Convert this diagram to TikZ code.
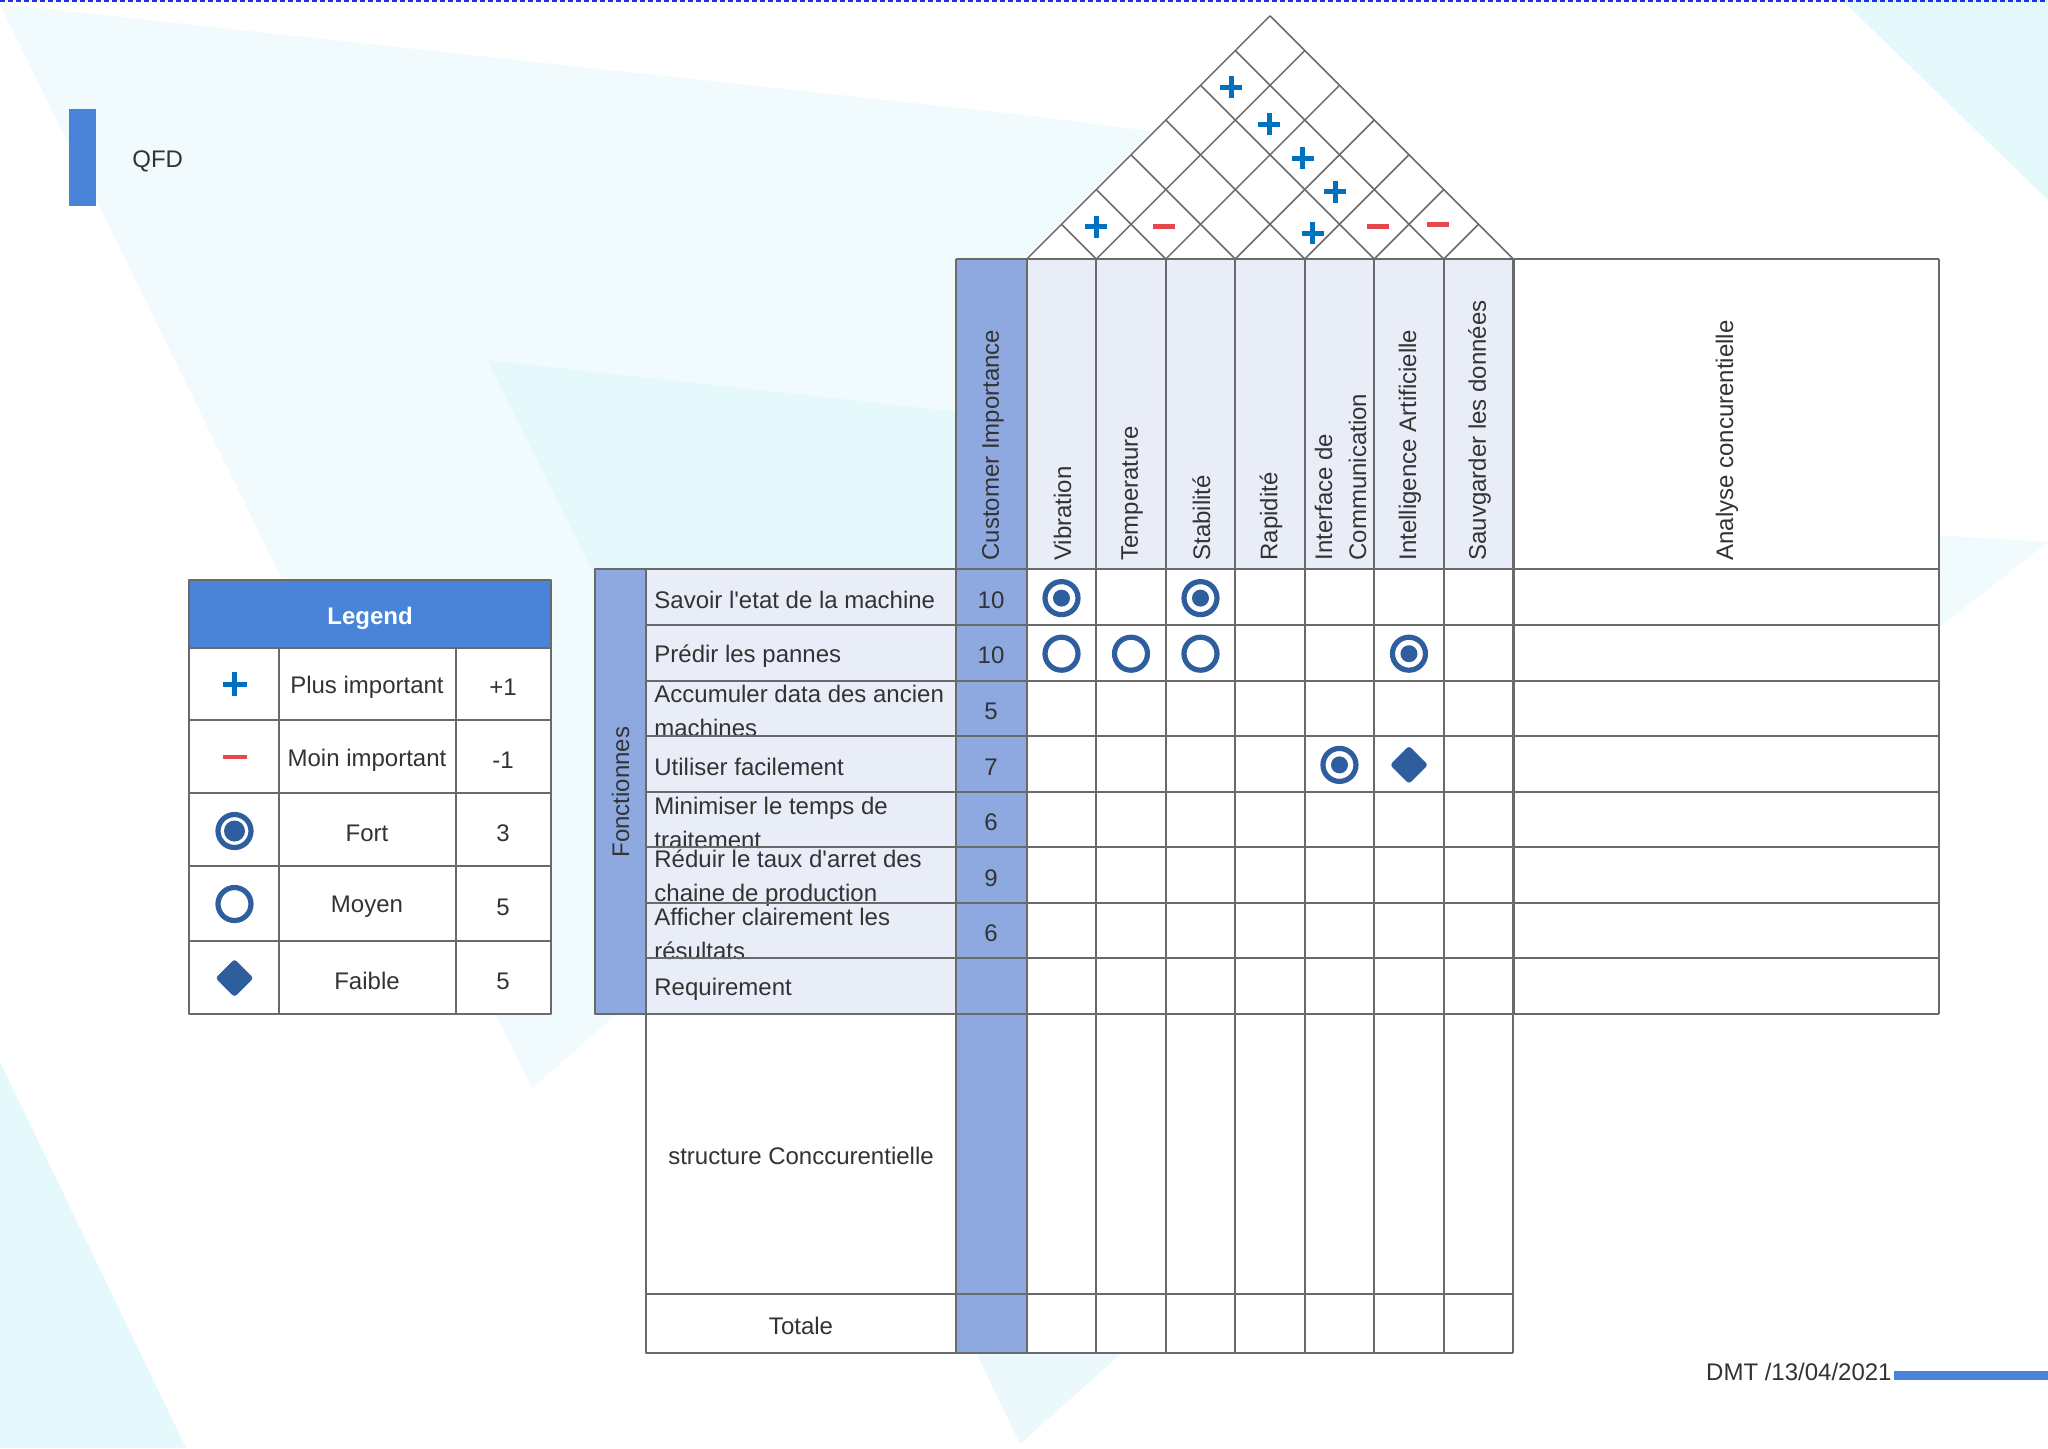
\documentclass[tikz,border=0pt]{standalone}
\usepackage{fontspec}
\setmainfont{Liberation Sans}
\definecolor{qfdblue}{HTML}{4A84D8}
\definecolor{colblue}{HTML}{8DA9E0}
\definecolor{cellfill}{HTML}{E8EDF8}
\definecolor{gridgray}{HTML}{6A6A6A}
\definecolor{symb}{HTML}{2F5E9E}
\definecolor{plusblue}{HTML}{0070C0}
\definecolor{minusred}{HTML}{E5474B}
\definecolor{bgA}{HTML}{F1FBFE}
\definecolor{bgB}{HTML}{E5F8FC}
\definecolor{bgC}{HTML}{EBF9FD}
\definecolor{txt}{HTML}{333333}
\definecolor{dashblue}{HTML}{1F2FF0}
\begin{document}
\begin{tikzpicture}[x=0.5pt,y=-0.5pt, line join=round,
  font=\fontsize{12}{17}\selectfont, text=txt,
  tabline/.style={draw=gridgray, line width=1pt},
  roofline/.style={draw=gridgray, line width=0.75pt},
  hdr/.style={rotate=90, anchor=west, inner sep=0pt},
  reqtext/.style={anchor=west, align=left, inner sep=0pt},
  numtext/.style={inner sep=0pt},
  plussign/.style={draw=plusblue, line width=2.5pt},
  minussign/.style={draw=minusred, line width=2.25pt},
  ringsym/.style={draw=symb, line width=2.6pt},
  dotsym/.style={fill=symb},
  faiblesym/.style={fill=symb, rounded corners=1.5pt}]
\useasboundingbox (0,0) rectangle (2048,1448);
\fill[white] (0,0) rectangle (2048,1448);
% background
\fill[bgA] (0,4) -- (1024,115) -- (1300,150) -- (1300,600) -- (614,1016) -- (532,1088) -- cycle;
\fill[bgB] (487,360) -- (960,412) -- (960,1016) -- (815,1016) -- cycle;
\fill[bgB] (0,1062) -- (186,1448) -- (0,1448) -- cycle;
\fill[bgB] (1842,0) -- (2048,0) -- (2048,200) -- cycle;
\fill[bgC] (951,1300) -- (1181,1300) -- (1020,1444) -- cycle;
\fill[bgA] (1850,530) -- (2048,542) -- (1900,658) -- cycle;
\draw[dashblue, line width=1pt, dash pattern=on 2.5pt off 1.5pt] (0,1) -- (2048,1);
% title and date
\fill[qfdblue] (69,109) rectangle (96,206);
\node[anchor=west, inner sep=0pt] (title) at (132,161) {QFD};
\fill[qfdblue] (1894,1371) rectangle (2048,1380);
\node[anchor=east, inner sep=0pt] (date) at (1892,1372) {DMT /13/04/2021};
% legend
\fill[white] (189,580) rectangle (551,1014);
\fill[qfdblue] (189,580) rectangle (551,648);
\node[font=\fontsize{12}{17}\selectfont\bfseries, text=white] (legend) at (370,618) {Legend};
\foreach \y/\lab/\val [count=\n] in {684/Plus important/+1, 757/Moin important/-1, 830/Fort/3, 904/Moyen/5, 978/Faible/5}{
  \node (lab\n) at (367,\y+3) {\lab};
  \node (val\n) at (503,\y+3) {\val};
}
\draw[tabline] (189,580) rectangle (551,1014);
\foreach \y in {648,720,793,866,941} \draw[tabline] (189,\y) -- (551,\y);
\foreach \x in {279,456} \draw[tabline] (\x,648) -- (\x,1014);
\draw[plussign] (222.5,684) -- (246.5,684) (234.5,672) -- (234.5,696);
\draw[minussign] (222.5,757) -- (246.5,757);
\draw[ringsym] (234.5,831) circle[radius=8.25pt];
\fill[dotsym] (234.5,831) circle[radius=5.25pt];
\draw[ringsym] (234.5,904) circle[radius=8.25pt];
\fill[faiblesym] (234.5,959) -- (253.5,978) -- (234.5,997) -- (215.5,978) -- cycle;
% house of quality
\fill[colblue] (595,569) rectangle (646,1014);
\fill[cellfill] (646,569) rectangle (956,1014);
\fill[white] (646,1014) rectangle (956,1353);
\fill[colblue] (956,259) rectangle (1026.8,1353);
\fill[cellfill] (1026.8,259) rectangle (1513.2,569);
\fill[white] (1026.8,569) rectangle (1513.2,1353);
\fill[white] (1513.2,259) rectangle (1939,1014);
\fill[white] (1026.8,259) -- (1270,15.8) -- (1513.2,259) -- cycle;
\node[rotate=90] (fonct) at (620.5,792) {Fonctionnes};
\foreach \t/\v [count=\i from 0] in {{Savoir l\textquotesingle etat de la machine}/10, {Prédir les pannes}/10,
  {Accumuler data des ancien\\machines}/5, {Utiliser facilement}/7, {Minimiser le temps de\\traitement}/6,
  {Réduir le taux d\textquotesingle arret des\\chaine de production}/9, {Afficher clairement les\\résultats}/6, {Requirement}/{}}{
  \node[reqtext] (req\i) at (654,{600.1+55.59*\i}) {\t};
  \node[numtext] (imp\i) at (991,{600.1+55.59*\i}) {\v};
}
\node[hdr] (himp) at (993,561) {Customer Importance};
\foreach \t [count=\k from 0] in {Vibration, Temperature, Stabilité, Rapidité, {Interface de\\Communication},
  Intelligence Artificielle, Sauvgarder les données}
  \node[hdr, align=left] (h\k) at ({1062.5+69.49*\k},561) {\t};
\node[hdr] (hana) at (1727,561) {Analyse concurentielle};
\node (struct) at (801,1156) {structure Conccurentielle};
\node (tot) at (801,1326) {Totale};
% table lines
\draw[tabline] (595,569.3) rectangle (646,1014);
\foreach \i in {0,...,8} \draw[tabline] (646,{569.3+55.59*\i}) -- (1939,{569.3+55.59*\i});
\draw[tabline] (956,259) -- (1939,259);
\draw[tabline] (646,569.3) -- (646,1353) -- (1513.2,1353);
\draw[tabline] (646,1294) -- (1513.2,1294);
\draw[tabline] (956,259) -- (956,1353);
\foreach \k in {0,...,7} \draw[tabline] ({1026.8+69.49*\k},259) -- ({1026.8+69.49*\k},1353);
\draw[tabline, line width=1.5pt] (1513.2,259) -- (1513.2,1014);
\draw[tabline] (1939,259) -- (1939,1014);
% roof
\foreach \k in {0,...,7}{
  \draw[roofline] ({1026.8+69.49*\k},259) -- ++({69.49*(7-\k)/2},{-69.49*(7-\k)/2});
  \draw[roofline] ({1026.8+69.49*\k},259) -- ++({-69.49*\k/2},{-69.49*\k/2});
}
\foreach \x/\y in {1096.4/226.7, 1231.4/87.3, 1269/124, 1302.9/158.3, 1335/191.7, 1312.9/233.3}
  \draw[plussign] (\x,\y) ++(-11,0) -- ++(22,0) ++(-11,-11) -- ++(0,22);
\foreach \x/\y in {1164/226.7, 1377.5/226.7, 1437.9/224.3}
  \draw[minussign] (\x,\y) ++(-11,0) -- ++(22,0);
% relationships
\foreach \c/\r in {0/0, 2/0, 5/1, 4/3}{
  \draw[ringsym] ({1061.5+69.49*\c},{598.1+55.59*\r}) circle[radius=8.25pt];
  \fill[dotsym] ({1061.5+69.49*\c},{598.1+55.59*\r}) circle[radius=4.25pt];
}
\foreach \c/\r in {0/1, 1/1, 2/1}
  \draw[ringsym] ({1061.5+69.49*\c},{598.1+55.59*\r}) circle[radius=8.25pt];
\fill[faiblesym] (1409,745.8) -- (1428,764.8) -- (1409,783.8) -- (1390,764.8) -- cycle;
\end{tikzpicture}
\end{document}
